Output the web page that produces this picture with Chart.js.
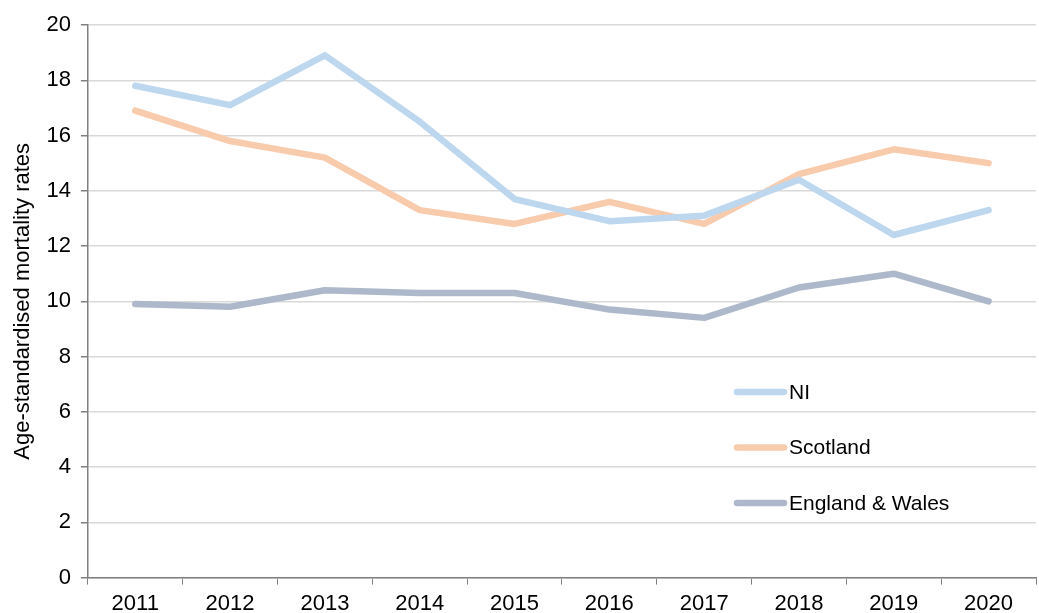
<!DOCTYPE html>
<html>
<head>
<meta charset="utf-8">
<script src="https://cdn.jsdelivr.net/npm/chart.js@4"></script>
<style>
  html, body { margin: 0; padding: 0; background: #fff; }
  #wrap { width: 1039px; height: 613px; }
</style>
</head>
<body>
<div id="wrap"><canvas id="chart" width="1039" height="613"></canvas></div>
<script>
// Data
const years = ['2011', '2012', '2013', '2014', '2015', '2016', '2017', '2018', '2019', '2020'];
const niRates = [17.8, 17.1, 18.9, 16.5, 13.7, 12.9, 13.1, 14.4, 12.4, 13.3];
const scotlandRates = [16.9, 15.8, 15.2, 13.3, 12.8, 13.6, 12.8, 14.6, 15.5, 15.0];
const englandWalesRates = [9.9, 9.8, 10.4, 10.3, 10.3, 9.7, 9.4, 10.5, 11.0, 10.0];
const yTicks = [0, 2, 4, 6, 8, 10, 12, 14, 16, 18, 20];

const FONT = "'Liberation Sans', Arial, sans-serif";

// Legend drawn inside the plot, stacked, like the original
const insideLegend = {
    id: 'insideLegend',
    afterDraw(chart) {
        const ctx = chart.ctx;
        const x0 = 737, x1 = 784;
        let y = 392;
        ctx.save();
        ctx.font = '21px ' + FONT;
        ctx.textBaseline = 'middle';
        chart.data.datasets.forEach(ds => {
            ctx.strokeStyle = ds.borderColor;
            ctx.lineWidth = 6.5;
            ctx.lineCap = 'round';
            ctx.beginPath();
            ctx.moveTo(x0, y);
            ctx.lineTo(x1, y);
            ctx.stroke();
            ctx.fillStyle = '#000';
            ctx.fillText(ds.label, x1 + 5, y + 1);
            y += 55.5;
        });
        ctx.restore();
    }
};

function line(label, data, color) {
    return {
        label: label,
        data: data,
        borderColor: color,
        backgroundColor: color,
        borderWidth: 6.5,
        pointRadius: 0,
        tension: 0,
        borderCapStyle: 'round',
        borderJoinStyle: 'round'
    };
}

new Chart(document.getElementById('chart').getContext('2d'), {
    type: 'line',
    data: {
        labels: years,
        datasets: [
            line('NI', niRates, '#bdd7ee'),
            line('Scotland', scotlandRates, '#f8cbad'),
            line('England & Wales', englandWalesRates, '#adb9ca')
        ]
    },
    options: {
        responsive: false,
        animation: false,
        layout: { padding: { top: 25, right: 3, left: 10, bottom: -10 } },
        plugins: {
            legend: { display: false },
            tooltip: { enabled: false }
        },
        scales: {
            x: {
                offset: true,
                border: { color: '#808080', width: 1.5 },
                grid: {
                    offset: true,
                    drawOnChartArea: false,
                    tickLength: 7,
                    color: '#808080',
                    tickColor: '#808080'
                },
                ticks: {
                    color: '#000',
                    font: { family: FONT, size: 22 },
                    padding: 6,
                    maxRotation: 0
                }
            },
            y: {
                min: 0,
                max: 20,
                afterBuildTicks: axis => { axis.ticks = yTicks.map(v => ({ value: v })); },
                border: { color: '#808080', width: 1.5 },
                grid: {
                    color: '#d9d9d9',
                    lineWidth: 1.5,
                    tickLength: 7,
                    tickColor: '#808080'
                },
                ticks: {
                    color: '#000',
                    font: { family: FONT, size: 22 },
                    padding: 10
                },
                title: {
                    display: true,
                    text: 'Age-standardised mortality rates',
                    color: '#000',
                    font: { family: FONT, size: 22 },
                    padding: { top: 0, bottom: 0 }
                }
            }
        }
    },
    plugins: [insideLegend]
});
</script>
</body>
</html>
